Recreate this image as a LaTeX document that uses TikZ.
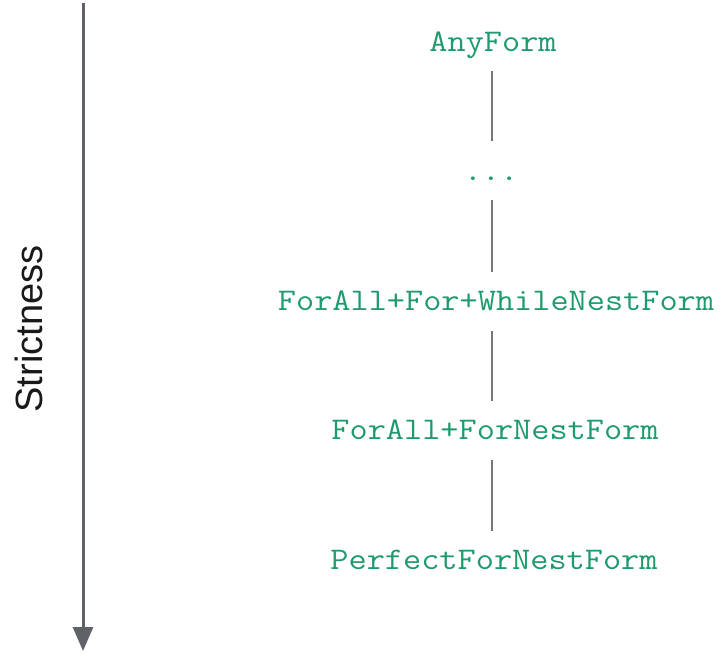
\documentclass[tikz,border=0pt]{standalone}
\usepackage{fontspec}
\setmainfont{Liberation Sans}
\newfontfamily\codefont{Latin Modern Mono}[FakeStretch=1.12]
\usetikzlibrary{arrows.meta}
\definecolor{formgreen}{HTML}{1F9A6C}
\definecolor{axisgray}{HTML}{5F6368}
\definecolor{linkgray}{HTML}{75777B}
\tikzset{
  form/.style={text=formgreen, font=\codefont\fontsize{31.5}{36}\selectfont,
    text height=17pt, text depth=0pt, inner xsep=0pt, inner ysep=0pt, anchor=center},
  link/.style={draw=linkgray, line width=2pt, shorten <=28.5pt, shorten >=30.5pt},
  axis/.style={draw=axisgray, line width=3pt, -{Triangle[width=20pt,length=24pt]}},
  axislabel/.style={font=\fontsize{38}{44}\selectfont, text=black!90, rotate=90}
}
\begin{document}
\begin{tikzpicture}[x=1pt,y=-1pt]
  \useasboundingbox (0,0) rectangle (723,655);
  % strictness axis
  \coordinate (top) at (83,3);
  \coordinate (bottom) at (83,651);
  \draw[axis] (top) -- (bottom);
  \node[axislabel] (strict) at (29,329) {Strictness};
  % hierarchy of forms, least strict on top
  \node[form] (any) at (493,43) {AnyForm};
  \node[form] (dots) at (491,172) {...};
  \node[form] (fafw) at (496,302) {ForAll+For+WhileNestForm};
  \node[form] (faf) at (495,431) {ForAll+ForNestForm};
  \node[form] (perfect) at (494,561) {PerfectForNestForm};
  \draw[link] (any.center -| 492,0) -- (dots.center -| 492,0);
  \draw[link] (dots.center -| 492,0) -- (fafw.center -| 492,0);
  \draw[link] (fafw.center -| 492,0) -- (faf.center -| 492,0);
  \draw[link] (faf.center -| 492,0) -- (perfect.center -| 492,0);
\end{tikzpicture}
\end{document}
